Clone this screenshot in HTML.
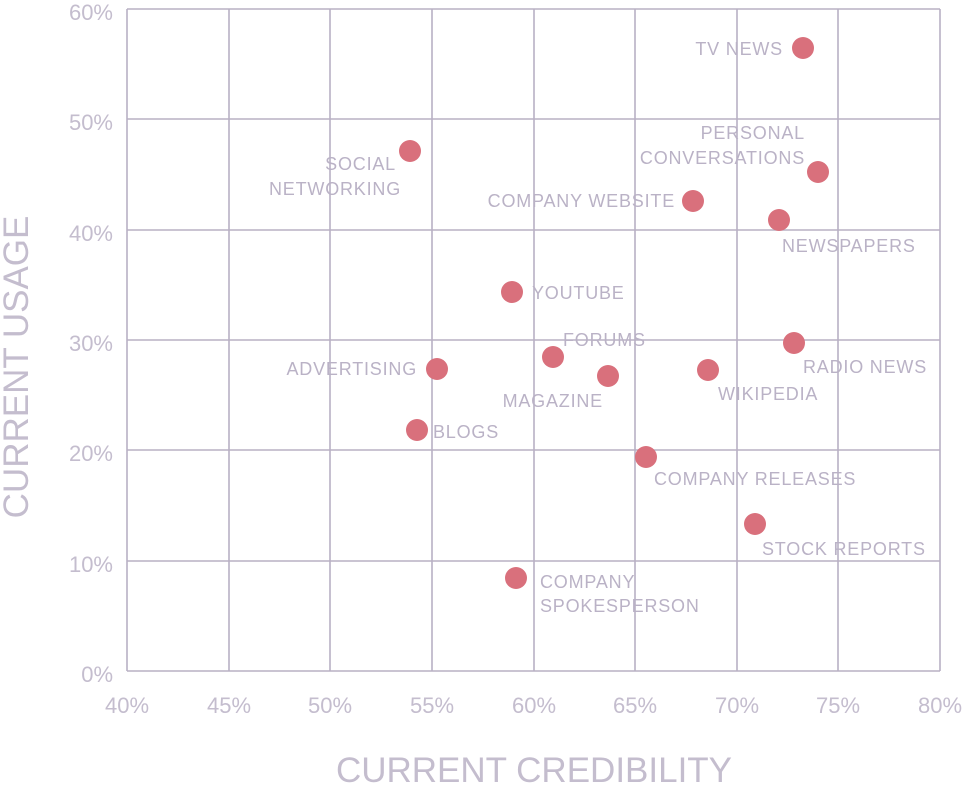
<!DOCTYPE html>
<html><head><meta charset="utf-8"><style>
html,body{margin:0;padding:0;background:#fff;}
svg{display:block;font-family:"Liberation Sans",sans-serif;}
.t{fill:#bab2c6;font-size:18px;letter-spacing:0.8px;}
.k{fill:#c4bdce;font-size:22px;}
.g{stroke:#b8b0c4;stroke-width:1.6;}
circle{fill:#d9707c;}
</style></head><body>
<svg width="969" height="792" viewBox="0 0 969 792">
<g class="g">
<line x1="127" y1="9" x2="127" y2="671"/><line x1="229" y1="9" x2="229" y2="671"/>
<line x1="330" y1="9" x2="330" y2="671"/><line x1="432" y1="9" x2="432" y2="671"/>
<line x1="534" y1="9" x2="534" y2="671"/><line x1="635" y1="9" x2="635" y2="671"/>
<line x1="737" y1="9" x2="737" y2="671"/><line x1="838" y1="9" x2="838" y2="671"/>
<line x1="940" y1="9" x2="940" y2="671"/>
<line x1="127" y1="9" x2="940" y2="9"/><line x1="127" y1="119" x2="940" y2="119"/>
<line x1="127" y1="230" x2="940" y2="230"/><line x1="127" y1="340" x2="940" y2="340"/>
<line x1="127" y1="450" x2="940" y2="450"/><line x1="127" y1="561" x2="940" y2="561"/>
<line x1="127" y1="671" x2="940" y2="671"/>
</g>
<g class="k" text-anchor="end">
<text x="113" y="20">60%</text><text x="113" y="130">50%</text><text x="113" y="241">40%</text>
<text x="113" y="351">30%</text><text x="113" y="461">20%</text><text x="113" y="572">10%</text>
<text x="113" y="682">0%</text>
</g>
<g class="k" text-anchor="middle">
<text x="127" y="713">40%</text><text x="229" y="713">45%</text><text x="330" y="713">50%</text>
<text x="432" y="713">55%</text><text x="534" y="713">60%</text><text x="635" y="713">65%</text>
<text x="737" y="713">70%</text><text x="838" y="713">75%</text><text x="940" y="713">80%</text>
</g>
<text x="534" y="782" text-anchor="middle" fill="#c4bdce" font-size="35">CURRENT CREDIBILITY</text>
<text transform="translate(28,367) rotate(-90)" text-anchor="middle" fill="#c4bdce" font-size="35">CURRENT USAGE</text>
<circle cx="803" cy="48" r="11"/><circle cx="818" cy="172" r="11"/><circle cx="410" cy="151" r="11"/>
<circle cx="693" cy="201" r="11"/><circle cx="779" cy="220" r="11"/><circle cx="512" cy="292" r="11"/>
<circle cx="794" cy="343" r="11"/><circle cx="553" cy="357" r="11"/><circle cx="437" cy="369" r="11"/>
<circle cx="608" cy="376" r="11"/><circle cx="708" cy="370" r="11"/><circle cx="417" cy="430" r="11"/>
<circle cx="646" cy="457" r="11"/><circle cx="755" cy="524" r="11"/><circle cx="516" cy="578" r="11"/>
<g class="t">
<text x="783" y="55" text-anchor="end">TV NEWS</text>
<text x="805" y="139" text-anchor="end">PERSONAL</text>
<text x="805" y="164" text-anchor="end">CONVERSATIONS</text>
<text x="396" y="170" text-anchor="end">SOCIAL</text>
<text x="401" y="195" text-anchor="end">NETWORKING</text>
<text x="675" y="207" text-anchor="end">COMPANY WEBSITE</text>
<text x="782" y="252">NEWSPAPERS</text>
<text x="532" y="299">YOUTUBE</text>
<text x="803" y="373">RADIO NEWS</text>
<text x="563" y="346">FORUMS</text>
<text x="417" y="375" text-anchor="end">ADVERTISING</text>
<text x="603" y="407" text-anchor="end">MAGAZINE</text>
<text x="718" y="400">WIKIPEDIA</text>
<text x="433" y="438">BLOGS</text>
<text x="654" y="485">COMPANY RELEASES</text>
<text x="762" y="555">STOCK REPORTS</text>
<text x="540" y="588">COMPANY</text>
<text x="540" y="612">SPOKESPERSON</text>
</g>
</svg>
</body></html>
